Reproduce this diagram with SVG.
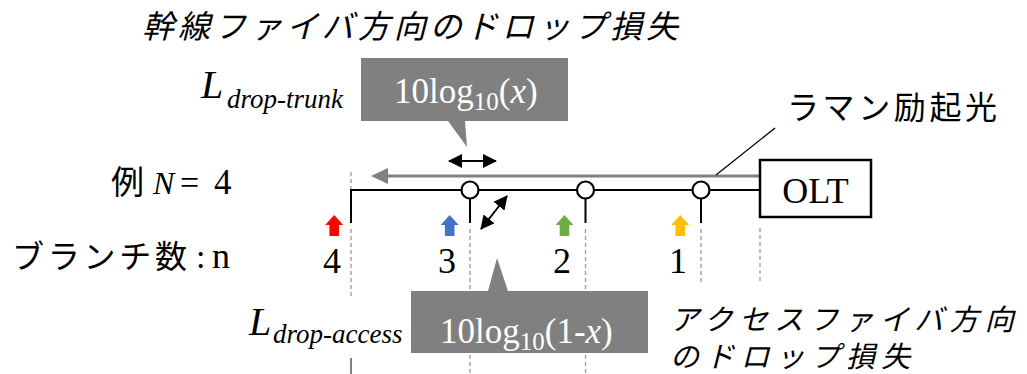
<svg xmlns="http://www.w3.org/2000/svg" width="1027" height="374" viewBox="0 0 1027 374">
<style>
text{font-family:'Liberation Serif','Noto Sans CJK JP',serif;fill:#000}
.cjk{font-family:'Noto Sans CJK JP','Liberation Serif',sans-serif}
.it{font-style:italic}
.dash{stroke:#9a9a9a;stroke-width:1.3;stroke-dasharray:4 3;fill:none}
.blk{stroke:#000;stroke-width:2;fill:none}
.callout{fill:#808080}
</style>
<defs>
<marker id="dh" viewBox="0 0 14 14" refX="13" refY="7" markerWidth="14" markerHeight="14" markerUnits="userSpaceOnUse" orient="auto-start-reverse">
<path d="M0,0 L14,7 L0,14 Z" fill="#000"/>
</marker>
<path id="up" d="M0,0 L9,10 L4.8,10 L4.8,21 L-4.8,21 L-4.8,10 L-9,10 Z"/>
</defs>

<g id="guides">
<line class="dash" x1="351" y1="172" x2="351" y2="190"/>
<line class="dash" x1="351" y1="229" x2="351" y2="297"/>
<line x1="351" y1="358" x2="351" y2="374" stroke="#555" stroke-width="1.5"/>
<line class="dash" x1="470" y1="229" x2="470" y2="374"/>
<line class="dash" x1="585.5" y1="229" x2="585.5" y2="374"/>
<line class="dash" x1="701" y1="229" x2="701" y2="282"/>
<line class="dash" x1="760" y1="228" x2="760" y2="282"/>
</g>

<g id="connectors">
<line x1="386" y1="176" x2="760" y2="176" stroke="#808080" stroke-width="3"/>
<path d="M371,176 L388,168 L388,184 Z" fill="#808080"/>
<line class="blk" x1="351" y1="190" x2="760" y2="190"/>
<line class="blk" x1="351" y1="189" x2="351" y2="223"/>
<line class="blk" x1="470" y1="198" x2="470" y2="223"/>
<line class="blk" x1="585.5" y1="198" x2="585.5" y2="223"/>
<line class="blk" x1="701" y1="198" x2="701" y2="223"/>
<line x1="716" y1="175" x2="775" y2="128" stroke="#000" stroke-width="1.3"/>
<line class="blk" x1="449" y1="161" x2="496" y2="161" marker-start="url(#dh)" marker-end="url(#dh)"/>
<line class="blk" x1="481" y1="229" x2="507" y2="196" marker-start="url(#dh)" marker-end="url(#dh)"/>
</g>

<g id="splitter-1"><circle cx="701" cy="190" r="8.5" fill="#fff" stroke="#000" stroke-width="2.2"/></g>
<g id="splitter-2"><circle cx="585.5" cy="190" r="8.5" fill="#fff" stroke="#000" stroke-width="2.2"/></g>
<g id="splitter-3"><circle cx="470" cy="190" r="8.5" fill="#fff" stroke="#000" stroke-width="2.2"/></g>

<g id="olt">
<rect x="760" y="160" width="111" height="57" fill="#fff" stroke="#000" stroke-width="2.5"/>
<text x="815.5" y="203" font-size="36" text-anchor="middle">OLT</text>
</g>

<g id="branch-arrows">
<use href="#up" x="334.2" y="215" fill="#ff0000"/>
<use href="#up" x="449.7" y="215" fill="#4472c4"/>
<use href="#up" x="564.5" y="215" fill="#70ad47"/>
<use href="#up" x="680.2" y="215" fill="#ffc000"/>
</g>

<g id="branch-numbers">
<text x="332" y="273" text-anchor="middle" font-size="36">4</text>
<text x="447" y="273" text-anchor="middle" font-size="36">3</text>
<text x="562" y="273" text-anchor="middle" font-size="36">2</text>
<text x="678" y="273" text-anchor="middle" font-size="36">1</text>
</g>

<g id="callout-trunk">
<path class="callout" d="M361,58 H568 V121 H465 L467,147 L448,121 H361 Z"/>
<text x="394" y="103" font-size="35" style="fill:#fff">10log<tspan font-size="25" y="110">10</tspan><tspan y="103">(</tspan><tspan class="it">x</tspan>)</text>
</g>

<g id="callout-access">
<path class="callout" d="M411,291 H488 L497,258 L508,291 H648 V353 H411 Z"/>
<text x="440" y="343" font-size="35" style="fill:#fff">10log<tspan font-size="25" y="350">10</tspan><tspan y="343">(1-</tspan><tspan class="it">x</tspan>)</text>
</g>

<g id="labels">
<text class="cjk it" x="142" y="38" font-size="32" textLength="536" lengthAdjust="spacing">幹線ファイバ方向のドロップ損失</text>
<text class="cjk" x="787" y="119" font-size="32" textLength="210" lengthAdjust="spacing">ラマン励起光</text>
<text class="it" x="201" y="98" font-size="40">L</text>
<text class="it" x="227" y="108" font-size="27">drop-trunk</text>
<text class="it" x="249" y="335" font-size="40">L</text>
<text class="it" x="273" y="343" font-size="27">drop-access</text>
<text class="cjk" x="111" y="194" font-size="33">例</text>
<text class="it" x="153" y="194" font-size="32">N</text>
<text x="180" y="194" font-size="34">=</text>
<text x="214" y="194" font-size="35">4</text>
<text class="cjk" x="12" y="268" font-size="32" textLength="175" lengthAdjust="spacing">ブランチ数</text>
<text x="196" y="268" font-size="34">:</text>
<text x="212" y="268" font-size="36">n</text>
<text class="it" font-size="29" letter-spacing="6.2"><tspan x="670" y="330">アクセスファイバ方向</tspan><tspan x="670" y="367">のドロップ損失</tspan></text>
</g>
</svg>
